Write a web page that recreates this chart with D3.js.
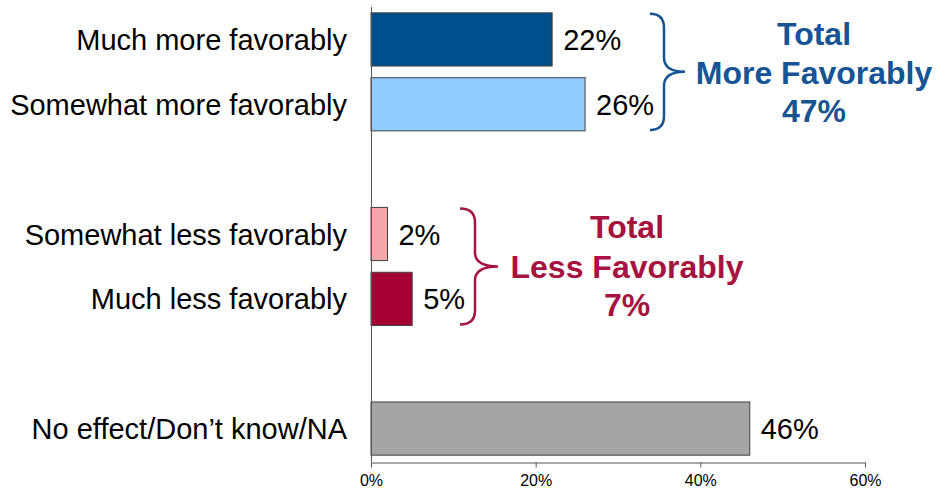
<!DOCTYPE html>
<html>
<head>
<meta charset="utf-8">
<script src="https://cdn.jsdelivr.net/npm/d3@7"></script>
<style>
  html, body { margin: 0; padding: 0; background: #fff; }
  svg { display: block; font-family: "Liberation Sans", Arial, sans-serif; }
</style>
</head>
<body>
<svg id="chart" width="936" height="489"></svg>
<script>
// ---- data ----
const categories = [
  "Much more favorably",
  "Somewhat more favorably",
  "",
  "Somewhat less favorably",
  "Much less favorably",
  " ",
  "No effect/Don\u2019t know/NA"
];
const values = [22, 26, null, 2, 5, null, 46];
const barColors = ["#004F8D", "#8FCBFF", null, "#F4A7A9", "#A50034", null, "#A5A5A5"];
const xTicks = [0, 20, 40, 60];
const moreGroup = { lines: ["Total", "More Favorably", "47%"], from: 0, to: 1, color: "#175494" };
const lessGroup = { lines: ["Total", "Less Favorably", "7%"], from: 3, to: 4, color: "#A6133F" };

// ---- layout ----
const svg = d3.select("#chart");
const x = d3.scaleLinear().domain([0, 60]).range([371, 865]);
const y = d3.scaleBand().domain(categories).range([7, 461]).paddingInner(0.18).paddingOuter(0.09);

// bars
const rows = categories.map((c, i) => ({ c, v: values[i], color: barColors[i] })).filter(d => d.v !== null);

svg.append("g").selectAll("rect").data(rows).join("rect")
  .attr("x", x(0))
  .attr("y", d => y(d.c))
  .attr("width", d => x(d.v) - x(0))
  .attr("height", y.bandwidth())
  .attr("fill", d => d.color)
  .attr("stroke", "#404040")
  .attr("stroke-width", 1);

// value labels
svg.append("g").selectAll("text").data(rows).join("text")
  .attr("x", d => x(d.v) + 11)
  .attr("y", d => y(d.c) + y.bandwidth() / 2 + 10.5)
  .attr("font-size", 29)
  .attr("fill", "#000")
  .text(d => d.v + "%");

// category labels
svg.append("g").selectAll("text").data(rows).join("text")
  .attr("x", 347)
  .attr("y", d => y(d.c) + y.bandwidth() / 2 + 10.5)
  .attr("text-anchor", "end")
  .attr("font-size", 29)
  .attr("fill", "#000")
  .text(d => d.c);

// vertical axis line
svg.append("line")
  .attr("x1", x(0) + 0.5).attr("x2", x(0) + 0.5)
  .attr("y1", 7).attr("y2", 462)
  .attr("stroke", "#555").attr("stroke-width", 1);

// x axis
const xAxis = svg.append("g")
  .attr("transform", "translate(0,462.5)")
  .call(d3.axisBottom(x).tickValues(xTicks).tickFormat(d => d + "%").tickSize(5).tickPadding(7).tickSizeOuter(0));
xAxis.select(".domain").attr("stroke", "#555");
xAxis.selectAll(".tick line").attr("stroke", "#555");
xAxis.selectAll(".tick text")
  .attr("font-size", 16)
  .attr("font-family", "'Liberation Sans', Arial, sans-serif")
  .attr("fill", "#000");

// braces
function brace(g, xl, xv, xt, top, bottom, color) {
  const mid = (top + bottom) / 2;
  const r = 14;
  const p = `M${xl},${top}
    Q${xv},${top} ${xv},${top + r}
    L${xv},${mid - r}
    Q${xv},${mid} ${xt},${mid}
    Q${xv},${mid} ${xv},${mid + r}
    L${xv},${bottom - r}
    Q${xv},${bottom} ${xl},${bottom}`;
  g.append("path").attr("d", p).attr("fill", "none")
    .attr("stroke", color).attr("stroke-width", 2.5);
}

function group(gr, xl, xv, xt, textX, baselines) {
  const g = svg.append("g");
  const top = y(categories[gr.from]) + 1;
  const bottom = y(categories[gr.to]) + y.bandwidth() - 1;
  brace(g, xl, xv, xt, top, bottom, gr.color);
  g.selectAll("text").data(gr.lines).join("text")
    .attr("x", textX)
    .attr("y", (d, i) => baselines[i])
    .attr("text-anchor", "middle")
    .attr("font-size", 32)
    .attr("font-weight", "bold")
    .attr("fill", gr.color)
    .text(d => d);
}

group(moreGroup, 650, 664, 685, 814, [45, 83.5, 122]);
group(lessGroup, 460, 475, 498, 627, [238, 278, 316]);
</script>
</body>
</html>
